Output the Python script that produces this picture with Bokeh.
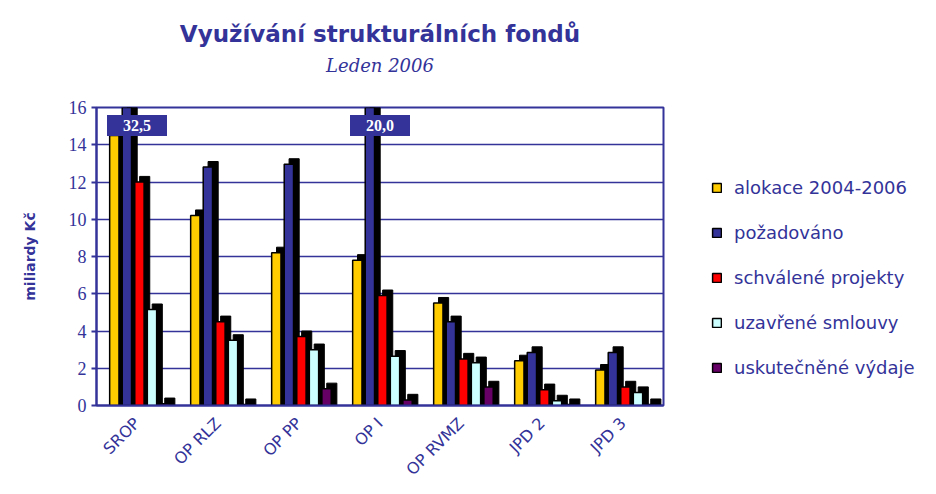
from math import pi
from bokeh.plotting import figure
from bokeh.models import ColumnDataSource, Range1d, Legend, LegendItem, Label, Title
from bokeh.transform import dodge
from bokeh.embed import file_html
from bokeh.resources import INLINE

# ---- data ----
categories = ["SROP", "OP RLZ", "OP PP", "OP I", "OP RVMZ", "JPD 2", "JPD 3"]
series_names = ["alokace 2004-2006", "požadováno", "schválené projekty",
                "uzavřené smlouvy", "uskutečněné výdaje"]
alokace = [14.5, 10.2, 8.2, 7.8, 5.5, 2.4, 1.9]
pozadovano = [32.5, 12.8, 12.95, 20.0, 4.5, 2.85, 2.85]
schvalene = [12.0, 4.5, 3.7, 5.9, 2.5, 0.85, 1.0]
uzavrene = [5.15, 3.5, 3.0, 2.65, 2.3, 0.25, 0.7]
vydaje = [0.1, 0.05, 0.9, 0.3, 1.0, 0.05, 0.05]
y_ticks = [0, 2, 4, 6, 8, 10, 12, 14, 16]
y_max = 16

series_values = [alokace, pozadovano, schvalene, uzavrene, vydaje]
colors = ["#FFCC00", "#333399", "#FF0000", "#CCFFFF", "#660066"]
offsets = [-0.28, -0.125, 0.03, 0.185, 0.34]
BLUE = "#333399"

p = figure(x_range=categories, y_range=Range1d(0, y_max),
           width=920, height=478, output_backend="svg", toolbar_location=None,
           min_border_left=96, min_border_bottom=20, min_border_top=107)
p.frame_width = 567
p.frame_height = 298

bar_w = 0.115
legend_items = []
for name, vals, col, off in zip(series_names, series_values, colors, offsets):
    src = ColumnDataSource(dict(cat=categories, v=vals, vs=[v + 0.3 for v in vals]))
    p.vbar(x=dodge("cat", off + 0.065, range=p.x_range), top="vs", width=bar_w + 0.01,
           source=src, fill_color="black", line_color="black")
    r = p.vbar(x=dodge("cat", off, range=p.x_range), top="v", width=bar_w,
               source=src, fill_color=col, line_color="black", line_width=1.5)
    legend_items.append(LegendItem(label=name, renderers=[r]))

# overflow labels
for c, v in zip(categories, pozadovano):
    if v > y_max:
        p.add_layout(Label(x=categories.index(c) + 0.5, y=y_max, y_offset=-18,
                           text=("%.1f" % v).replace(".", ","),
                           text_align="center", text_baseline="middle",
                           text_color="white", text_font="Liberation Serif",
                           text_font_style="bold", text_font_size="16px",
                           background_fill_color=BLUE, padding=(16, 5)))

p.outline_line_color = BLUE
p.outline_line_width = 2
p.xgrid.grid_line_color = None
p.ygrid.grid_line_color = BLUE
p.ygrid.grid_line_width = 1.5
p.yaxis.ticker = y_ticks
p.yaxis.axis_label = "miliardy Kč"
p.yaxis.axis_label_text_font = "DejaVu Sans"
p.yaxis.axis_label_text_font_style = "bold"
p.yaxis.axis_label_text_font_size = "14px"
p.yaxis.axis_label_text_color = BLUE
p.yaxis.axis_label_standoff = 28
p.yaxis.major_label_text_font = "Liberation Serif"
p.yaxis.major_label_text_font_size = "18px"
p.yaxis.major_label_text_color = BLUE
p.yaxis.minor_tick_line_color = None
for ax in (p.xaxis, p.yaxis):
    ax.axis_line_color = BLUE
    ax.axis_line_width = 2
    ax.major_tick_line_color = BLUE
    ax.major_tick_line_width = 2
    ax.major_tick_out = 5
    ax.major_tick_in = 0
p.xaxis.major_label_orientation = pi / 4
p.xaxis.major_label_text_font = "DejaVu Sans"
p.xaxis.major_label_text_font_size = "16px"
p.xaxis.major_label_text_color = BLUE
p.xaxis.major_label_standoff = 10
p.xaxis.major_tick_line_color = None

legend = Legend(items=legend_items, location=(48, 27), glyph_width=11, glyph_height=11,
                label_text_font="DejaVu Sans", label_text_font_size="18px",
                label_text_color=BLUE, spacing=24, label_standoff=12,
                border_line_color=None, background_fill_alpha=0, padding=0, margin=0)
p.add_layout(legend, "right")
p.min_border_right = 265

# spacer between plot and subtitle
p.add_layout(Title(text=" ", text_font_size="1px", standoff=29), "above")
p.add_layout(Title(text="Leden 2006", align="center", text_font="DejaVu Serif",
                   text_font_style="italic", text_font_size="18px",
                   text_color=BLUE, standoff=0), "above")
p.add_layout(Title(text="Využívání strukturálních fondů", align="center",
                   text_font="DejaVu Sans", text_font_style="bold",
                   text_font_size="23px", text_color=BLUE, standoff=12), "above")

open("out.html", "w").write(file_html(p, INLINE))
